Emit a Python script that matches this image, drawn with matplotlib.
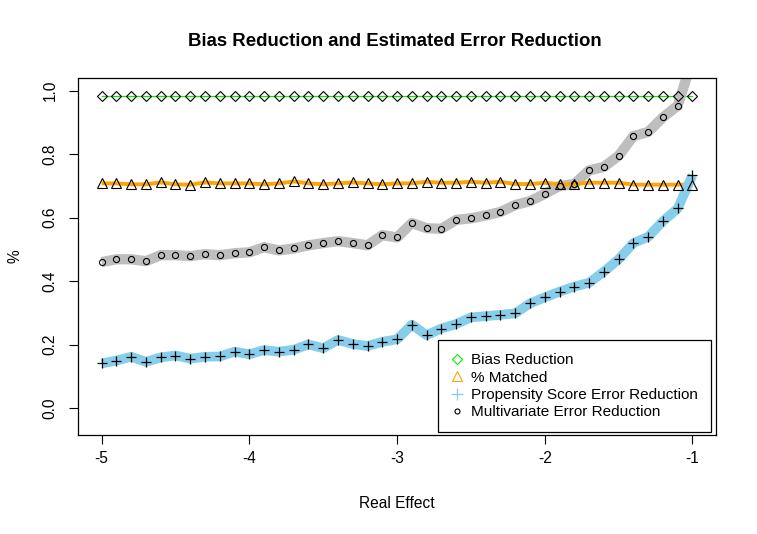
import matplotlib
matplotlib.use("Agg")
import matplotlib.pyplot as plt
import numpy as np

plt.rcParams['font.family'] = ['Liberation Sans', 'DejaVu Sans']
plt.rcParams['axes.unicode_minus'] = False

# real effect values, -5 to -1 by 0.1
real_effect = [-5.0, -4.9, -4.8, -4.7, -4.6, -4.5, -4.4, -4.3, -4.2, -4.1,
               -4.0, -3.9, -3.8, -3.7, -3.6, -3.5, -3.4, -3.3, -3.2, -3.1,
               -3.0, -2.9, -2.8, -2.7, -2.6, -2.5, -2.4, -2.3, -2.2, -2.1,
               -2.0, -1.9, -1.8, -1.7, -1.6, -1.5, -1.4, -1.3, -1.2, -1.1,
               -1.0]

bias_reduction = [0.982] * 41

pct_matched = [0.708, 0.708, 0.705, 0.705, 0.711, 0.705, 0.704, 0.711, 0.708, 0.708,
               0.708, 0.705, 0.708, 0.714, 0.708, 0.705, 0.708, 0.711, 0.708, 0.705,
               0.708, 0.708, 0.713, 0.710, 0.710, 0.713, 0.710, 0.713, 0.706, 0.706,
               0.710, 0.705, 0.706, 0.710, 0.710, 0.710, 0.704, 0.704, 0.704, 0.704,
               0.704]

ps_error_red = [0.141, 0.150, 0.162, 0.146, 0.160, 0.166, 0.156, 0.162, 0.163, 0.178,
                0.170, 0.183, 0.178, 0.184, 0.201, 0.189, 0.215, 0.202, 0.196, 0.209,
                0.217, 0.263, 0.230, 0.251, 0.265, 0.286, 0.290, 0.294, 0.299, 0.330,
                0.349, 0.367, 0.383, 0.395, 0.430, 0.469, 0.520, 0.540, 0.589, 0.629,
                0.734]

mv_error_red = [0.460, 0.469, 0.469, 0.463, 0.482, 0.482, 0.479, 0.485, 0.482, 0.488,
                0.491, 0.507, 0.497, 0.503, 0.513, 0.520, 0.526, 0.520, 0.513, 0.545,
                0.538, 0.583, 0.567, 0.565, 0.593, 0.598, 0.607, 0.618, 0.640, 0.652,
                0.675, 0.700, 0.706, 0.749, 0.760, 0.795, 0.857, 0.870, 0.916, 0.953,
                1.100]

legend_labels = ["Bias Reduction", "% Matched",
                 "Propensity Score Error Reduction", "Multivariate Error Reduction"]


fig = plt.figure(figsize=(7.57, 5.34), dpi=100)
ax = fig.add_axes([0.103, 0.185, 0.843, 0.669])

# thick lines act as the bands
ax.plot(real_effect, bias_reduction, color="#00ee00", lw=0.9, zorder=1)
ax.plot(real_effect, mv_error_red, color="#bebebe", lw=7.4,
        solid_capstyle="butt", solid_joinstyle="round", zorder=2)
ax.plot(real_effect, pct_matched, color="orange", lw=2.8,
        solid_capstyle="butt", zorder=3)
ax.plot(real_effect, ps_error_red, color="#87ceeb", lw=7.0,
        solid_capstyle="butt", solid_joinstyle="round", zorder=3)

# then the points
ax.plot(real_effect, bias_reduction, ls="none", marker="D", ms=5.3,
        mfc="none", mec="black", mew=0.8, zorder=5)
ax.plot(real_effect, pct_matched, ls="none", marker="^", ms=7.3,
        mfc="none", mec="black", mew=0.8, zorder=5)
ax.plot(real_effect, ps_error_red, ls="none", marker="+", ms=7.5,
        color="black", mew=0.9, zorder=5)
ax.plot(real_effect, mv_error_red, ls="none", marker="o", ms=4.4,
        mfc="none", mec="black", mew=0.8, zorder=5)

ax.set_xlim(-5.16, -0.84)
ax.set_ylim(-0.085, 1.04)
ax.set_xticks([-5, -4, -3, -2, -1])
ax.set_yticks([0.0, 0.2, 0.4, 0.6, 0.8, 1.0])
ax.set_yticklabels(["0.0", "0.2", "0.4", "0.6", "0.8", "1.0"], rotation=90, va="center")
ax.tick_params(direction="out", length=6.5, width=0.8, labelsize=11.2, color="black")
ax.tick_params(axis="x", pad=5)
ax.tick_params(axis="y", pad=8)
for sp in ax.spines.values():
    sp.set_linewidth(0.9)
    sp.set_color("black")

fig.text(395 / 757, 1 - 42 / 534, "Bias Reduction and Estimated Error Reduction",
         fontsize=13.4, fontweight="bold", ha="center", va="center")
fig.text(397 / 757, 1 - 503 / 534, "Real Effect", fontsize=11.2, ha="center", va="center")
fig.text(15 / 757, 1 - 256 / 534, "%", fontsize=11.2, ha="center", va="center", rotation=90)

# legend handles mimic the R legend symbols
h1, = ax.plot([], [], ls="none", marker="D", ms=5.3, mfc="none", mec="#00ee00", mew=0.8)
h2, = ax.plot([], [], ls="none", marker="^", ms=7, mfc="none", mec="orange", mew=0.8)
h3, = ax.plot([], [], ls="none", marker="+", ms=8, color="#87ceeb", mew=0.9)
h4, = ax.plot([], [], ls="none", marker="o", ms=3.6, mfc="none", mec="black", mew=0.8)
leg = ax.legend([h1, h2, h3, h4], legend_labels, loc="lower right",
                bbox_to_anchor=(0.992, 0.008), borderaxespad=0, fontsize=11.0,
                fancybox=False, framealpha=1, edgecolor="black",
                handlelength=0.8, handletextpad=0.5, labelspacing=0.22,
                borderpad=0.85)
leg.get_frame().set_linewidth(0.9)

fig.savefig("out.png", dpi=100)
